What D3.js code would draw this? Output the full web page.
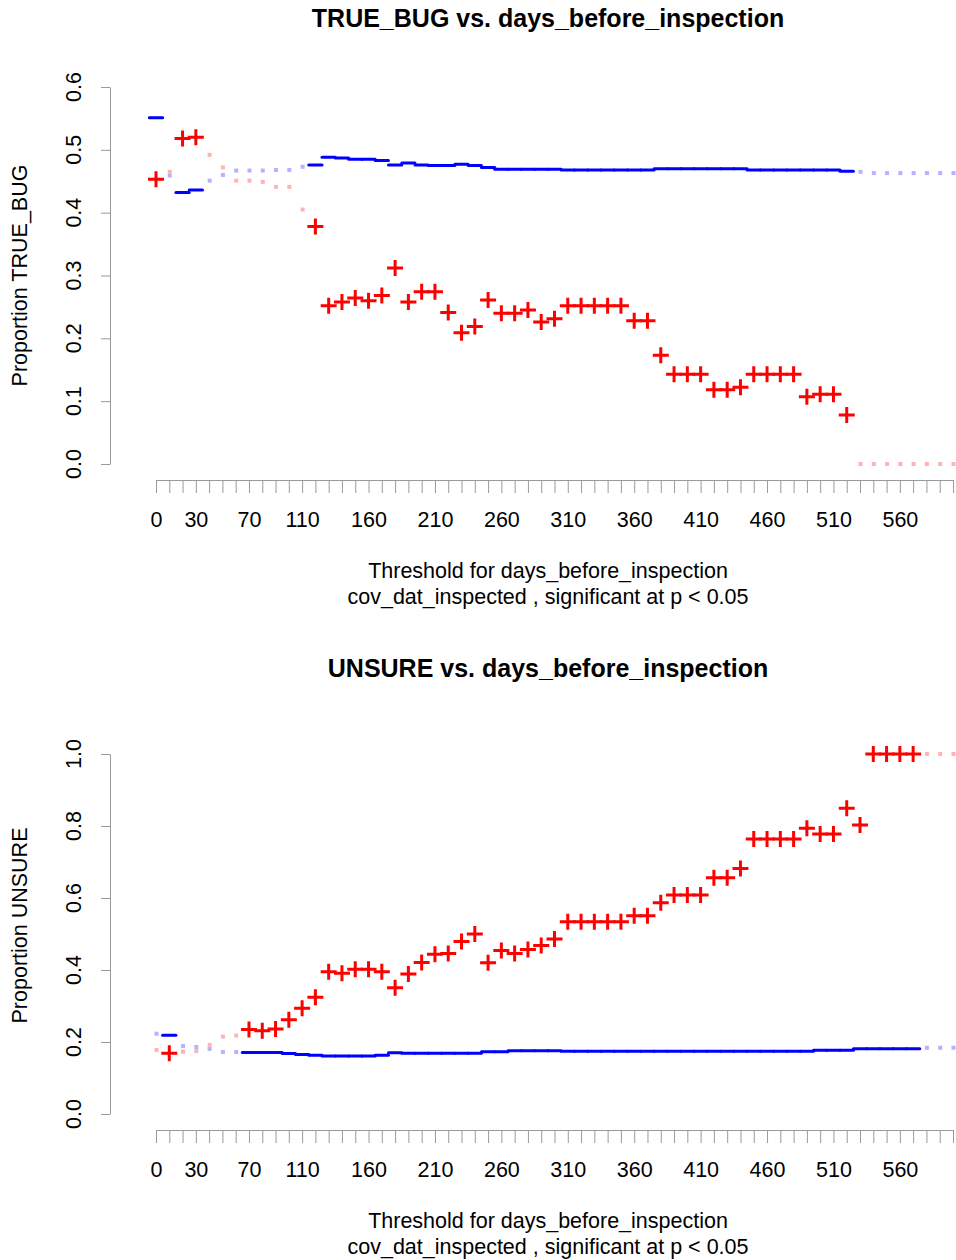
<!DOCTYPE html>
<html><head><meta charset="utf-8">
<script src="https://cdn.jsdelivr.net/npm/d3@7"></script>
<style>body{margin:0;background:#fff}svg{display:block}text{font-family:"Liberation Sans",Arial,Helvetica,sans-serif;fill:#000}</style>
</head><body><svg id="c" width="956" height="1260"></svg>
<script>
const thresholds = [0,10,20,30,40,50,60,70,80,90,100,110,120,130,140,150,160,170,180,190,200,210,220,230,240,250,260,270,280,290,300,310,320,330,340,350,360,370,380,390,400,410,420,430,440,450,460,470,480,490,500,510,520,530,540,550,560,570,580,590,600];
const xTickLabels = [0,30,70,110,160,210,260,310,360,410,460,510,560];

const bugSignificant = [1,0,1,1,0,0,0,0,0,0,0,0,1,1,1,1,1,1,1,1,1,1,1,1,1,1,1,1,1,1,1,1,1,1,1,1,1,1,1,1,1,1,1,1,1,1,1,1,1,1,1,1,1,0,0,0,0,0,0,0,0];
const bugBelow = [0.453,0.465,0.518,0.520,0.492,0.472,0.451,0.451,0.449,0.441,0.441,0.405,0.378,0.252,0.258,0.264,0.260,0.268,0.312,0.258,0.274,0.274,0.241,0.209,0.219,0.261,0.240,0.240,0.245,0.226,0.231,0.252,0.252,0.252,0.252,0.252,0.228,0.228,0.173,0.143,0.143,0.143,0.118,0.118,0.122,0.143,0.143,0.143,0.143,0.107,0.111,0.111,0.078,0,0,0,0,0,0,0,0];
const bugAbove = [0.551,0.459,0.432,0.436,0.451,0.460,0.467,0.467,0.467,0.468,0.468,0.473,0.476,0.488,0.487,0.485,0.485,0.483,0.476,0.479,0.476,0.475,0.475,0.477,0.475,0.472,0.469,0.469,0.469,0.469,0.469,0.468,0.468,0.468,0.468,0.468,0.468,0.468,0.470,0.470,0.470,0.470,0.470,0.470,0.470,0.468,0.468,0.468,0.468,0.468,0.468,0.468,0.466,0.465,0.463,0.463,0.463,0.463,0.463,0.463,0.463];
const bugYTicks = [0,0.1,0.2,0.3,0.4,0.5,0.6];

const unsureSignificant = [0,1,0,0,0,0,0,1,1,1,1,1,1,1,1,1,1,1,1,1,1,1,1,1,1,1,1,1,1,1,1,1,1,1,1,1,1,1,1,1,1,1,1,1,1,1,1,1,1,1,1,1,1,1,1,1,1,1,0,0,0];
const unsureBelow = [0.178,0.169,0.173,0.175,0.192,0.215,0.218,0.235,0.231,0.236,0.262,0.294,0.324,0.395,0.391,0.402,0.402,0.395,0.351,0.389,0.421,0.444,0.446,0.479,0.500,0.420,0.454,0.446,0.457,0.468,0.486,0.534,0.534,0.534,0.534,0.534,0.551,0.551,0.587,0.608,0.608,0.608,0.656,0.656,0.682,0.764,0.764,0.764,0.764,0.794,0.778,0.778,0.849,0.803,1,1,1,1,1,1,1];
const unsureAbove = [0.223,0.219,0.189,0.186,0.181,0.172,0.172,0.171,0.171,0.171,0.168,0.165,0.163,0.161,0.161,0.161,0.161,0.163,0.170,0.169,0.169,0.169,0.169,0.169,0.169,0.173,0.173,0.176,0.176,0.176,0.176,0.174,0.174,0.174,0.174,0.174,0.174,0.174,0.174,0.174,0.174,0.174,0.174,0.174,0.174,0.174,0.174,0.174,0.174,0.174,0.177,0.177,0.177,0.181,0.181,0.181,0.181,0.181,0.184,0.184,0.184];
const unsureYTicks = [0,0.2,0.4,0.6,0.8,1.0];

const svg = d3.select("#c");
const x = d3.scaleLinear().domain([0,600]).range([156,953]);
const FS = 21.5, TFS = 25;

function panel(cfg) {
  const g = svg.append("g").attr("transform", `translate(0,${cfg.dy})`);
  const y = d3.scaleLinear().domain(cfg.domain).range(cfg.range);
  const rows = thresholds.map((t,i) => ({t, sig: cfg.sig[i], below: cfg.below[i], above: cfg.above[i]}));

  g.append("text").attr("x",548).attr("y",27).attr("text-anchor","middle")
    .attr("font-size",TFS).attr("font-weight","bold").text(cfg.title);

  // y axis
  const ya = g.append("g").attr("transform","translate(110,0)")
    .call(d3.axisLeft(y).tickValues(cfg.yTicks).tickSize(9).tickSizeOuter(0).tickFormat(""));
  ya.selectAll("path,line").attr("stroke","#9a9a9a");
  g.selectAll(".ylab").data(cfg.yTicks).join("text")
    .attr("transform", d => `translate(81,${y(d)}) rotate(-90)`)
    .attr("text-anchor","middle").attr("font-size",FS).text(d => d.toFixed(1));
  g.append("text").attr("transform",`translate(27,275.5) rotate(-90)`)
    .attr("text-anchor","middle").attr("font-size",FS).text(cfg.ylabel);

  // x axis
  const xa = g.append("g").attr("transform","translate(0,480)")
    .call(d3.axisBottom(x).tickValues(thresholds).tickSize(13).tickSizeOuter(0).tickPadding(19)
      .tickFormat(d => xTickLabels.includes(d) ? String(d) : ""));
  xa.selectAll("path,line").attr("stroke","#9a9a9a");
  xa.selectAll("text").attr("font-size",FS).attr("font-family",'"Liberation Sans",Arial,sans-serif').attr("fill","#000");
  g.append("text").attr("x",548).attr("y",578).attr("text-anchor","middle").attr("font-size",FS)
    .text("Threshold for days_before_inspection");
  g.append("text").attr("x",548).attr("y",604).attr("text-anchor","middle").attr("font-size",FS)
    .text("cov_dat_inspected , significant at p < 0.05");

  // non-significant: faint dots
  const ns = rows.filter(r => !r.sig);
  g.selectAll(".nsb").data(ns).join("rect")
    .attr("x", r => x(r.t)-1.5).attr("y", r => y(r.above)-2).attr("width",4).attr("height",4)
    .attr("fill","#b3b3ff");
  g.selectAll(".nsr").data(ns).join("rect")
    .attr("x", r => x(r.t)-1.5).attr("y", r => y(r.below)-2).attr("width",4).attr("height",4)
    .attr("fill","#ffb3b3");

  const sg = rows.filter(r => r.sig);
  g.selectAll(".seg").data(sg).join("line")
    .attr("x1", r => x(r.t-5)).attr("x2", r => x(r.t+5))
    .attr("y1", r => y(r.above)).attr("y2", r => y(r.above))
    .attr("stroke","#0000ff").attr("stroke-width",3).attr("stroke-linecap","round");
  g.selectAll(".plus").data(sg).join("path")
    .attr("transform", r => `translate(${x(r.t)},${y(r.below)})`)
    .attr("d","M-8,0H8M0,-8V8").attr("stroke","#ff0000").attr("stroke-width",3).attr("fill","none");
}

panel({dy:0, title:"TRUE_BUG vs. days_before_inspection", ylabel:"Proportion TRUE_BUG",
  domain:[0,0.6], range:[464,87], yTicks:bugYTicks, sig:bugSignificant, below:bugBelow, above:bugAbove});
panel({dy:650, title:"UNSURE vs. days_before_inspection", ylabel:"Proportion UNSURE",
  domain:[0,1], range:[464,104], yTicks:unsureYTicks, sig:unsureSignificant, below:unsureBelow, above:unsureAbove});
</script></body></html>
